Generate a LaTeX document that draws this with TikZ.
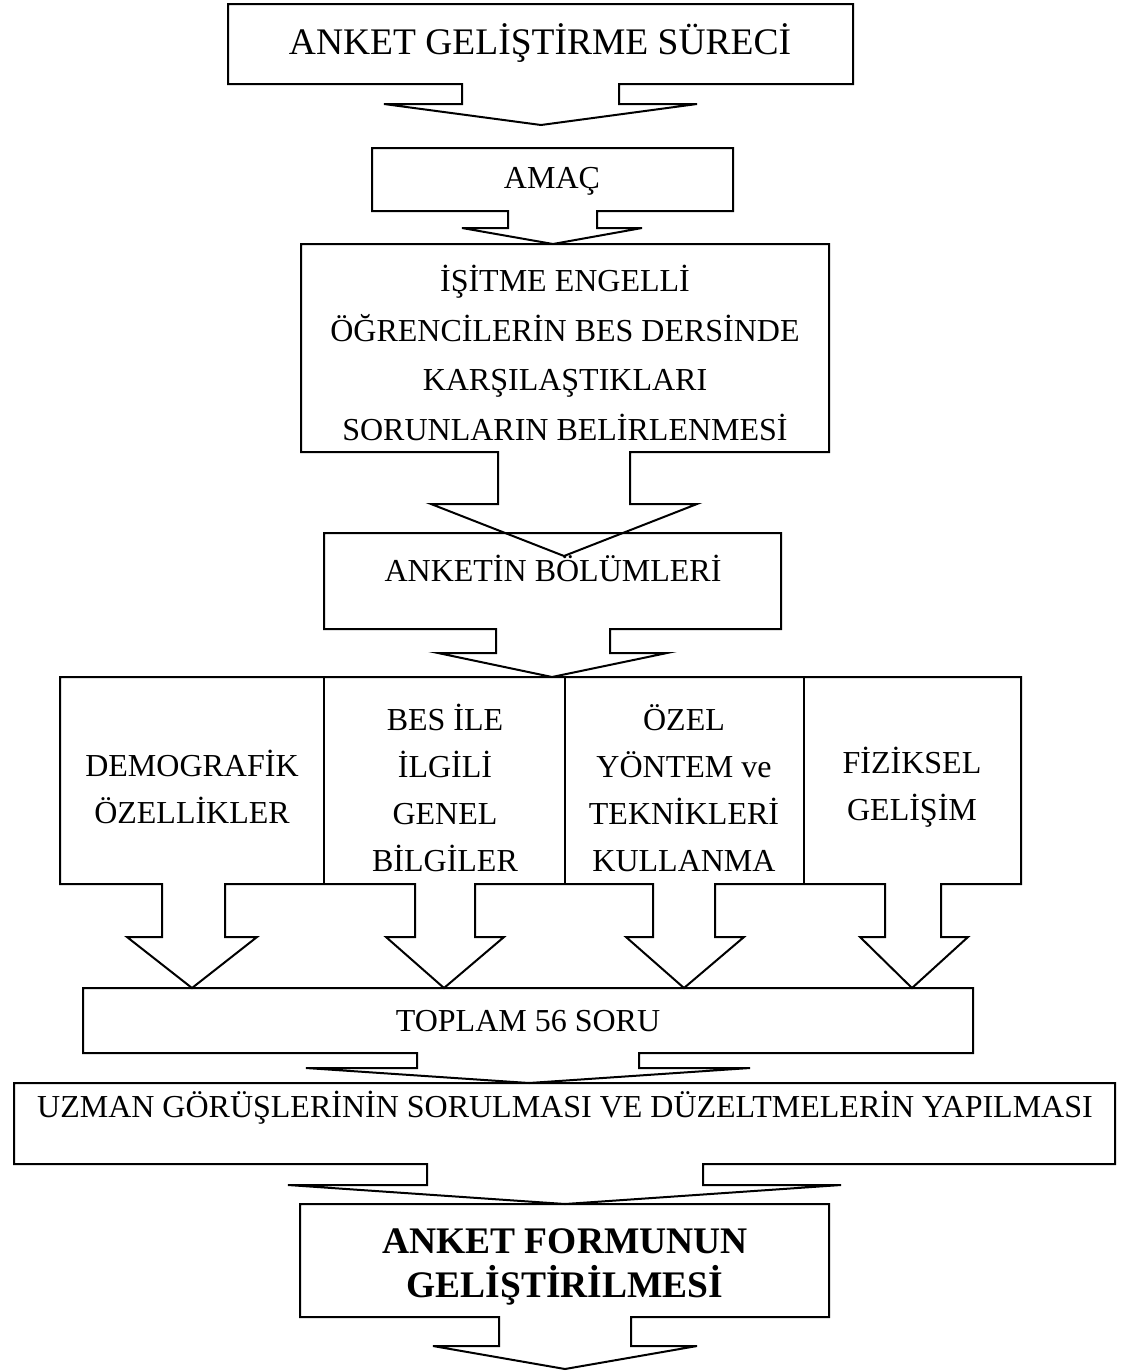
\documentclass[tikz,border=0pt]{standalone}
\usepackage{fontspec}
\setmainfont{Liberation Serif}
\begin{document}
\begin{tikzpicture}[x=1pt,y=-1pt,
  shp/.style={draw=black,line width=2pt,line join=miter},
  divider/.style={draw=black,line width=1.4pt},
  txt/.style={inner sep=0pt,align=center,font=\fontsize{32}{48}\selectfont},
  coltxt/.style={inner sep=0pt,align=center,font=\fontsize{32}{47}\selectfont},
  bigtxt/.style={inner sep=0pt,align=center,font=\fontsize{37.5}{45}\selectfont},
  boldtxt/.style={inner sep=0pt,align=center,font=\fontsize{37.5}{44}\selectfont\bfseries}]
\useasboundingbox (0,0) rectangle (1128,1371);
% 1 ANKET GELISTIRME SURECI
\draw[shp] (228,4) -- (853,4) -- (853,84) -- (619,84) -- (619,104) -- (697,104) -- (541,125)
  -- (384,104) -- (462,104) -- (462,84) -- (228,84) -- cycle;
\node[bigtxt] (title) at (540,43) {ANKET GELİŞTİRME SÜRECİ};
% 2 AMAC
\draw[shp] (372,148) -- (733,148) -- (733,211) -- (597,211) -- (597,228) -- (642,228) -- (553,244)
  -- (462,228) -- (508,228) -- (508,211) -- (372,211) -- cycle;
\node[txt] (amac) at (552,181) {AMAÇ};
% 3 ISITME
\draw[shp] (301,244) -- (829,244) -- (829,452) -- (630,452) -- (630,504) -- (697,504) -- (564,556)
  -- (431,504) -- (498,504) -- (498,452) -- (301,452) -- cycle;
\node[txt,font=\fontsize{32}{49.5}\selectfont] (isitme) at (565,353)
  {İŞİTME ENGELLİ\\ÖĞRENCİLERİN BES DERSİNDE\\KARŞILAŞTIKLARI\\SORUNLARIN BELİRLENMESİ};
% 4 ANKETIN BOLUMLERI
\draw[shp] (324,533) -- (781,533) -- (781,629) -- (610,629) -- (610,653) -- (667,653) -- (552,677)
  -- (438,653) -- (496,653) -- (496,629) -- (324,629) -- cycle;
\node[txt] (anketin) at (553,568) {ANKETİN BÖLÜMLERİ};
% 5 row of four
\draw[shp] (60,677) -- (1021,677) -- (1021,884) -- (941,884) -- (941,937) -- (968,937) -- (912,988)
  -- (860,937) -- (885,937) -- (885,884) -- (715,884) -- (715,937) -- (744,937) -- (684,988)
  -- (626,937) -- (653,937) -- (653,884) -- (475,884) -- (475,937) -- (504,937) -- (444,988)
  -- (386,937) -- (415,937) -- (415,884) -- (225,884) -- (225,937) -- (257,937) -- (192,988)
  -- (127,937) -- (162,937) -- (162,884) -- (60,884) -- cycle;
\draw[divider] (324,677) -- (324,884);
\draw[divider] (565,677) -- (565,884);
\draw[divider] (804,677) -- (804,884);
\node[coltxt] (demo) at (192,787) {DEMOGRAFİK\\ÖZELLİKLER};
\node[coltxt] (bes) at (445,788) {BES İLE\\İLGİLİ\\GENEL\\BİLGİLER};
\node[coltxt] (ozel) at (684,788) {ÖZEL\\YÖNTEM ve\\TEKNİKLERİ\\KULLANMA};
\node[coltxt] (fiz) at (912,787) {FİZİKSEL\\GELİŞİM};
% 6 TOPLAM
\draw[shp] (83,988) -- (973,988) -- (973,1053) -- (639,1053) -- (639,1068) -- (750,1068) -- (529,1083)
  -- (306,1068) -- (417,1068) -- (417,1053) -- (83,1053) -- cycle;
\node[txt] (toplam) at (528,1021) {TOPLAM 56 SORU};
% 7 UZMAN
\draw[shp] (14,1083) -- (1115,1083) -- (1115,1164) -- (703,1164) -- (703,1185) -- (841,1185) -- (565,1204)
  -- (288,1185) -- (427,1185) -- (427,1164) -- (14,1164) -- cycle;
\node[txt] (uzman) at (565,1108) {UZMAN GÖRÜŞLERİNİN SORULMASI VE DÜZELTMELERİN YAPILMASI};
% 8 ANKET FORMUNUN
\draw[shp] (300,1204) -- (829,1204) -- (829,1317) -- (631,1317) -- (631,1346) -- (697,1346) -- (565,1369)
  -- (433,1346) -- (499,1346) -- (499,1317) -- (300,1317) -- cycle;
\node[boldtxt] (form) at (565,1267) {ANKET FORMUNUN\\GELİŞTİRİLMESİ};
\end{tikzpicture}
\end{document}
